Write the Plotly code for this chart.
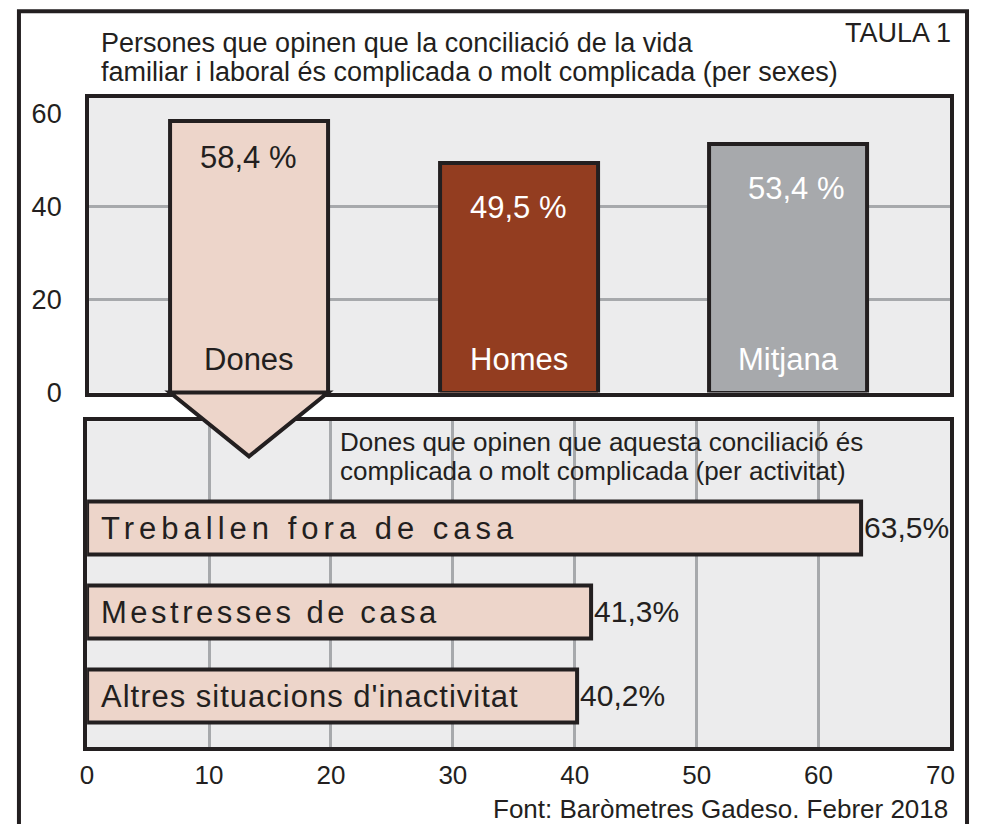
import plotly.graph_objects as go

# top chart: by sex
sex_labels = ["Dones", "Homes", "Mitjana"]
sex_values = [58.4, 49.5, 53.4]
sex_text = ["58,4 %", "49,5 %", "53,4 %"]

# bottom chart: women by activity
act_labels = ["Treballen fora de casa", "Mestresses de casa", "Altres situacions d'inactivitat"]
act_values = [63.5, 41.3, 40.2]
act_text = ["63,5%", "41,3%", "40,2%"]

x_ticks = [0, 10, 20, 30, 40, 50, 60, 70]
y_ticks = [0, 20, 40, 60]

# page body keeps its 8px margin; the shot comes back ~1.7% shorter than the page
OFF = 8
VH = 838
W, H = 982 - 2 * OFF, VH - 2 * OFF
INK = "#231f20"
PINK = "#edd5ca"
GRID = "#a7a9ac"
BG = "#ececed"
FONT = "Liberation Sans, Arial, sans-serif"


def px(x):
    # picture pixel -> paper x
    return (x - OFF) / W


def py(y):
    # picture pixel -> paper y
    return 1 - (y * VH / 824 - OFF) / H


def spaced(s, gap):
    # tracked-out lettering like the printed original
    return f'<span style="letter-spacing:{gap}px">{s}</span>'


top_xrange = [-0.593, 2.60]
top_xdom = [px(83), px(955)]
top_ydom = [py(393), py(98)]
bot_xdom = [px(81), px(955)]
bot_ydom = [py(748), py(422)]
bar_w = 0.586

fig = go.Figure()

fig.add_trace(go.Bar(
    x=sex_labels, y=sex_values, width=bar_w,
    marker=dict(color=[PINK, "#933d20", "#a7a9ac"], line=dict(color=INK, width=4)),
    xaxis="x", yaxis="y", showlegend=False, hoverinfo="skip"))

fig.add_trace(go.Bar(
    y=act_labels, x=act_values, orientation="h", width=0.63,
    marker=dict(color=PINK, line=dict(color=INK, width=4)),
    text=act_text, textposition="outside", constraintext="none", cliponaxis=False,
    textfont=dict(family=FONT, size=30, color=INK),
    xaxis="x2", yaxis="y2", showlegend=False, hoverinfo="skip"))

ann = []
# value and name labels on the top bars
txt_cols = [INK, "white", "white"]
val_shift = [-36, -45, -44]
for i, lab in enumerate(sex_labels):
    ann.append(dict(x=lab, y=sex_values[i], xref="x", yref="y", text=sex_text[i],
                    showarrow=False, yanchor="middle", yshift=val_shift[i],
                    xshift=8 if i == 2 else 0,
                    font=dict(family=FONT, size=31, color=txt_cols[i])))
    ann.append(dict(x=lab, y=0, xref="x", yref="y", text=lab,
                    showarrow=False, yanchor="middle", yshift=33,
                    font=dict(family=FONT, size=31, color=txt_cols[i])))

# names inside the bottom bars
gaps = [5, 3.5, 1]
for i, lab in enumerate(act_labels):
    ann.append(dict(x=0, y=lab, xref="x2", yref="y2", text=spaced(lab, gaps[i]),
                    showarrow=False, xanchor="left", xshift=12, yanchor="middle",
                    font=dict(family=FONT, size=31, color=INK)))

# titles
ann += [
    dict(x=px(93), y=py(43), xref="paper", yref="paper", xanchor="left", yanchor="middle",
         text="Persones que opinen que la conciliació de la vida", showarrow=False,
         font=dict(family=FONT, size=27, color=INK)),
    dict(x=px(93), y=py(72), xref="paper", yref="paper", xanchor="left", yanchor="middle",
         text="familiar i laboral és complicada o molt complicada (per sexes)", showarrow=False,
         font=dict(family=FONT, size=27, color=INK)),
    dict(x=px(958), y=py(33), xref="paper", yref="paper", xanchor="right", yanchor="middle",
         text="TAULA 1", showarrow=False, font=dict(family=FONT, size=27, color=INK)),
    dict(x=px(335), y=py(443), xref="paper", yref="paper", xanchor="left", yanchor="middle",
         text="Dones que opinen que aquesta conciliació és", showarrow=False,
         font=dict(family=FONT, size=26, color=INK)),
    dict(x=px(335), y=py(472), xref="paper", yref="paper", xanchor="left", yanchor="middle",
         text="complicada o molt complicada (per activitat)", showarrow=False,
         font=dict(family=FONT, size=26, color=INK)),
    dict(x=px(955), y=py(810), xref="paper", yref="paper", xanchor="right", yanchor="middle",
         text="Font: Baròmetres Gadeso. Febrer 2018", showarrow=False,
         font=dict(family=FONT, size=26, color=INK)),
]

# arrow under the "Dones" bar, placed from the bar's own data position
def to_paper_x(v):
    return top_xdom[0] + (v - top_xrange[0]) / (top_xrange[1] - top_xrange[0]) * (top_xdom[1] - top_xdom[0])


xl, xr, xc = to_paper_x(-bar_w / 2), to_paper_x(bar_w / 2), to_paper_x(0)
arrow = f"M {xl} {top_ydom[0]} L {xc} {py(457)} L {xr} {top_ydom[0]} Z"

shapes = [
    # outer frame (right side kept just inside the figure)
    dict(type="rect", xref="paper", yref="paper", x0=px(12), x1=px(972), y0=-0.2, y1=py(11),
         line=dict(color=INK, width=4), layer="below"),
    # hide grid above the bottom bars
    dict(type="rect", xref="x2 domain", yref="paper", x0=0, x1=1, y0=py(495), y1=bot_ydom[1],
         fillcolor=BG, line=dict(width=0), layer="between"),
    dict(type="path", path=arrow, xref="paper", yref="paper", fillcolor=PINK,
         line=dict(color=INK, width=4), layer="above"),
]

axis_line = dict(showline=True, mirror=True, linewidth=4, linecolor=INK, zeroline=False)

fig.update_layout(
    width=W, height=H,
    margin=dict(l=0, r=0, t=0, b=0),
    paper_bgcolor="white", plot_bgcolor=BG,
    bargap=0,
    font=dict(family=FONT, color=INK),
    xaxis=dict(domain=top_xdom, range=top_xrange, showticklabels=False, ticks="",
               showgrid=False, fixedrange=True, **axis_line),
    yaxis=dict(domain=top_ydom, range=[0, 63.4], tickvals=y_ticks, ticks="",
               showgrid=False, ticklabelstandoff=18, tickfont=dict(size=27, color=INK),
               minor=dict(tickvals=[20, 40], showgrid=True, gridcolor=GRID, gridwidth=3),
               **axis_line),
    xaxis2=dict(domain=bot_xdom, range=[0, 70.8], anchor="y2", tickvals=x_ticks, ticks="",
                showgrid=False, ticklabelstandoff=2, tickfont=dict(size=26, color=INK),
                minor=dict(tickvals=[10, 20, 30, 40, 50, 60], showgrid=True,
                           gridcolor=GRID, gridwidth=3),
                **axis_line),
    yaxis2=dict(domain=bot_ydom, anchor="x2", range=[2.607, -1.27], showticklabels=False,
                ticks="", showgrid=False, **axis_line),
    annotations=ann,
    shapes=shapes,
)

fig.write_html("out.html", config={"displayModeBar": False})
